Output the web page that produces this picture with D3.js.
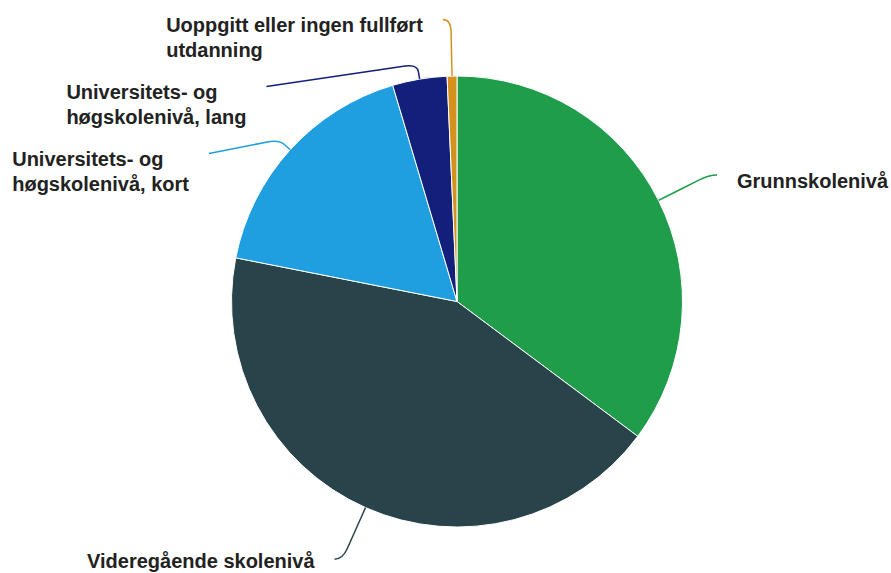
<!DOCTYPE html>
<html><head><meta charset="utf-8">
<script src="https://cdn.jsdelivr.net/npm/d3@7"></script>
<style>html,body{margin:0;padding:0;background:#fff;} svg{display:block;}</style>
</head><body><svg id="chart" width="891" height="573"></svg>
<script>
// ---- data ----
const categories = ["Grunnskolenivå", "Videregående skolenivå", "Universitets- og høgskolenivå, kort", "Universitets- og høgskolenivå, lang", "Uoppgitt eller ingen fullført utdanning"];
const labelLines = [["Grunnskolenivå"], ["Videregående skolenivå"], ["Universitets- og", "høgskolenivå, kort"], ["Universitets- og", "høgskolenivå, lang"], ["Uoppgitt eller ingen fullført", "utdanning"]];
const values = [35.2, 42.9, 17.3, 3.9, 0.7];
const colors = ["#1f9d4b", "#28434a", "#1f9ee0", "#13207b", "#d4921c"];

// ---- layout ----
const W = 891, H = 573, cx = 457, cy = 301.5, r = 225.5;
const labelDistance = 56.5, breakOffset = 15, padding = 8, gap = 20, lineH = 25, boxH = 67, fontSize = 20;
const R = r + labelDistance;

const svg = d3.select("#chart");
const g = svg.append("g").attr("transform", `translate(${cx},${cy})`);

const arcs = d3.pie().sort(null).value(d => d)(values);
const arc = d3.arc().innerRadius(0).outerRadius(r);

g.selectAll("path.slice").data(arcs).join("path")
  .attr("class", "slice")
  .attr("d", arc)
  .attr("fill", (d, i) => colors[i])
  .attr("stroke", "#fff").attr("stroke-width", 1).attr("stroke-linejoin", "round");

// label layout
const labels = arcs.map((d, i) => {
  const mid = (d.startAngle + d.endAngle) / 2;
  const s = Math.sin(mid), c = Math.cos(mid);
  return { i, mid, s, c, side: s >= 0 ? 1 : -1, ny: -R * c };
});
[1, -1].forEach(side => {
  const grp = labels.filter(l => l.side === side).sort((a, b) => a.ny - b.ny);
  let prev = -Infinity;
  grp.forEach(l => { l.y = Math.max(l.ny, prev + boxH); prev = l.y; });
});
labels.forEach(l => {
  const dx = Math.sqrt(Math.max(0, R * R - l.y * l.y));
  l.x = l.side * (dx + padding);
  l.touch = [r * l.s, -r * l.c];
  l.brk = [(r + breakOffset) * l.s, -(r + breakOffset) * l.c];
  const crookX = -l.y * Math.tan(l.mid);
  const pts = [[l.x, l.y]];
  const ok = l.side < 0 ? (crookX >= l.x && crookX <= l.brk[0]) : (crookX <= l.x && crookX >= l.brk[0]);
  if (ok) pts.push([crookX, l.y]);
  pts.push(l.brk, l.touch);
  l.pts = pts;
});

function roundedPath(pts) {
  const p = d3.path();
  p.moveTo(pts[0][0], pts[0][1]);
  for (let k = 1; k < pts.length - 1; k++) {
    const A = pts[k - 1], P = pts[k], B = pts[k + 1];
    const la = Math.hypot(A[0] - P[0], A[1] - P[1]), lb = Math.hypot(B[0] - P[0], B[1] - P[1]);
    const d1 = Math.min(12, la * (k === 1 ? 1 : 0.5)), d2 = Math.min(12, lb * 0.5);
    const P1 = [P[0] + (A[0] - P[0]) * d1 / la, P[1] + (A[1] - P[1]) * d1 / la];
    const P2 = [P[0] + (B[0] - P[0]) * d2 / lb, P[1] + (B[1] - P[1]) * d2 / lb];
    p.lineTo(P1[0], P1[1]);
    p.quadraticCurveTo(P[0], P[1], P2[0], P2[1]);
  }
  const L = pts[pts.length - 1];
  p.lineTo(L[0], L[1]);
  return p.toString();
}

g.selectAll("path.connector").data(labels).join("path")
  .attr("class", "connector")
  .attr("d", l => roundedPath(l.pts))
  .attr("fill", "none")
  .attr("stroke", l => colors[l.i])
  .attr("stroke-width", 1.5);

const texts = g.selectAll("text.label").data(labels).join("text")
  .attr("class", "label")
  .attr("font-family", "'Liberation Sans', Arial, sans-serif")
  .attr("font-size", fontSize)
  .attr("font-weight", "bold")
  .attr("fill", "#222");

texts.each(function (l) {
  const t = d3.select(this);
  const lines = labelLines[l.i];
  const spans = lines.map((s, k) => t.append("tspan").text(s));
  const widths = spans.map(sp => sp.node().getComputedTextLength());
  const maxW = d3.max(widths);
  let x0 = l.side > 0 ? l.x + gap : l.x - gap - maxW;
  let base = l.y + 12.5;
  const lastBase = base + (lines.length - 1) * lineH;
  const maxBase = H - 5 - cy;
  if (lastBase > maxBase) base -= (lastBase - maxBase);
  const avail = (W - 3 - cx) - x0;
  spans.forEach((sp, k) => {
    sp.attr("x", x0).attr("y", base + k * lineH);
    if (l.side > 0 && widths[k] > avail) sp.attr("textLength", avail).attr("lengthAdjust", "spacingAndGlyphs");
  });
});
</script>
</body></html>
